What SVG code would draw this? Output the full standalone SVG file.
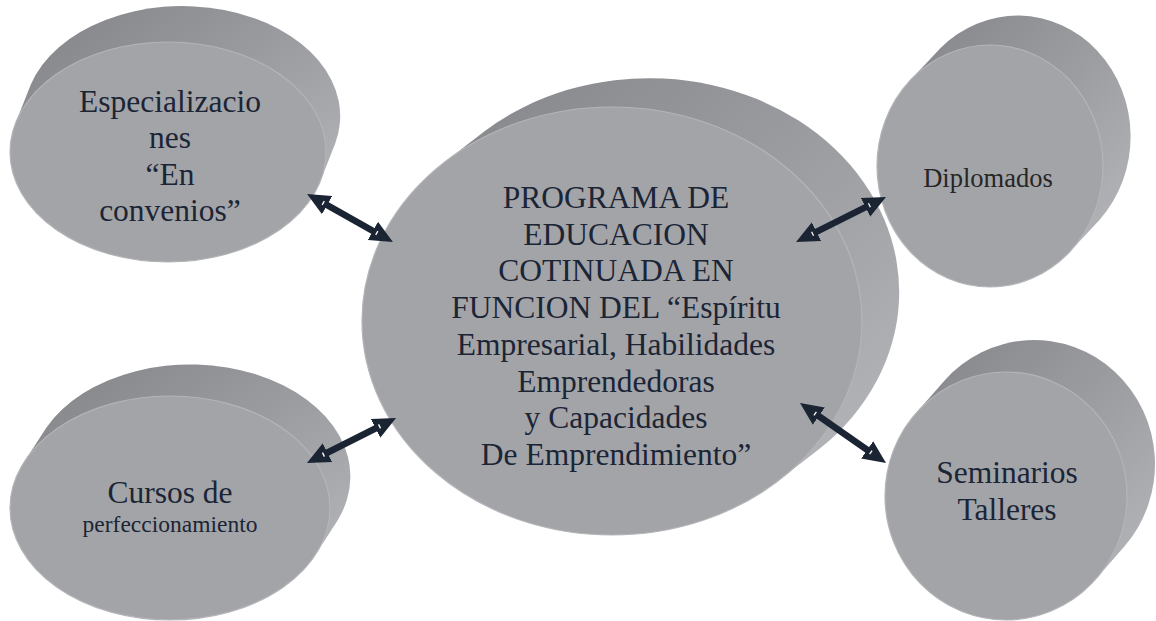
<svg xmlns="http://www.w3.org/2000/svg" width="1156" height="621" viewBox="0 0 1156 621">
<style>
.side{fill:url(#sideGrad);}
.face{fill:#a3a4a8;stroke:#b4b5b8;stroke-width:1.2;}
.t{font-family:"Liberation Serif","Times New Roman",serif;font-size:31.5px;fill:#1b2536;text-anchor:middle;}
.conn{stroke:#1b2433;stroke-width:6.5;fill:none;marker-start:url(#ah);marker-end:url(#ah);}
</style>
<defs>
<linearGradient id="sideGrad" x1="0.25" y1="0" x2="1" y2="0.75">
<stop offset="0" stop-color="#88898d"/>
<stop offset="0.5" stop-color="#9c9da1"/>
<stop offset="1" stop-color="#b3b4b8"/>
</linearGradient>
<marker id="ah" viewBox="0 -11 23 22" refX="2" refY="0" markerUnits="userSpaceOnUse" markerWidth="23" markerHeight="22" orient="auto-start-reverse">
<path d="M0,-10.5 L23,0 L0,10.5 Z" fill="#1b2433"/>
<line x1="4.5" y1="-2.2" x2="4.5" y2="2.2" stroke="#ffffff" stroke-width="1.3"/>
</marker>
</defs>
<rect width="1156" height="621" fill="#ffffff"/>

<g id="node-especializaciones">
<path class="side" d="M335.3,143.2 L320.3,181.2 A158,110 0 0 1 15.7,122.8 L30.7,84.8 A158,110 0 0 1 335.3,143.2 Z"/>
<ellipse class="face" cx="168" cy="152" rx="158" ry="110"/>
<text class="t" x="170" y="112">Especializacio</text>
<text class="t" x="170" y="148">nes</text>
<text class="t" x="170" y="185">“En</text>
<text class="t" x="170" y="221">convenios”</text>
</g>

<g id="node-cursos">
<path class="side" d="M337.7,520.2 L315.7,554.2 A160,112 0 0 1 24.3,461.8 L46.3,427.8 A160,112 0 0 1 337.7,520.2 Z"/>
<ellipse class="face" cx="170" cy="508" rx="160" ry="112"/>
<text class="t" x="170" y="503">Cursos de</text>
<text class="t" x="170" y="532" style="font-size:23.5px">perfeccionamiento</text>
</g>

<g id="node-programa">
<path class="side" d="M819.8,448.6 L779.8,479.6 A250,214 0 0 1 444.2,162.4 L484.2,131.4 A250,214 0 0 1 819.8,448.6 Z"/>
<ellipse class="face" cx="612" cy="321" rx="250" ry="214"/>
<text class="t" x="616" y="208">PROGRAMA DE</text>
<text class="t" x="616" y="244.7">EDUCACION</text>
<text class="t" x="616" y="281.4">COTINUADA EN</text>
<text class="t" x="616" y="318.1">FUNCION DEL “Espíritu</text>
<text class="t" x="616" y="354.8">Empresarial, Habilidades</text>
<text class="t" x="616" y="391.5">Emprendedoras</text>
<text class="t" x="616" y="428.2">y Capacidades</text>
<text class="t" x="616" y="464.9">De Emprendimiento”</text>
</g>

<g id="node-diplomados">
<path class="side" d="M1099.7,219.7 L1069.7,251.7 A113,121 0 0 1 910.3,80.3 L940.3,48.3 A113,121 0 0 1 1099.7,219.7 Z"/>
<ellipse class="face" cx="990" cy="166" rx="113" ry="121"/>
<text class="t" x="988" y="187" style="font-size:26.5px;fill:#262626">Diplomados</text>
</g>

<g id="node-seminarios">
<path class="side" d="M1124.1,546.8 L1096.1,578.8 A121,124 0 0 1 915.9,413.2 L943.9,381.2 A121,124 0 0 1 1124.1,546.8 Z"/>
<ellipse class="face" cx="1006" cy="496" rx="121" ry="124"/>
<text class="t" x="1007" y="483">Seminarios</text>
<text class="t" x="1007" y="520">Talleres</text>
</g>

<g id="connectors">
<line class="conn" x1="325.4" y1="204.2" x2="374.6" y2="231.8"/>
<line class="conn" x1="814.8" y1="232.6" x2="867.2" y2="206.4"/>
<line class="conn" x1="325.7" y1="453.5" x2="377.3" y2="427.5"/>
<line class="conn" x1="817.2" y1="415.0" x2="868.8" y2="451.0"/>
</g>
</svg>
